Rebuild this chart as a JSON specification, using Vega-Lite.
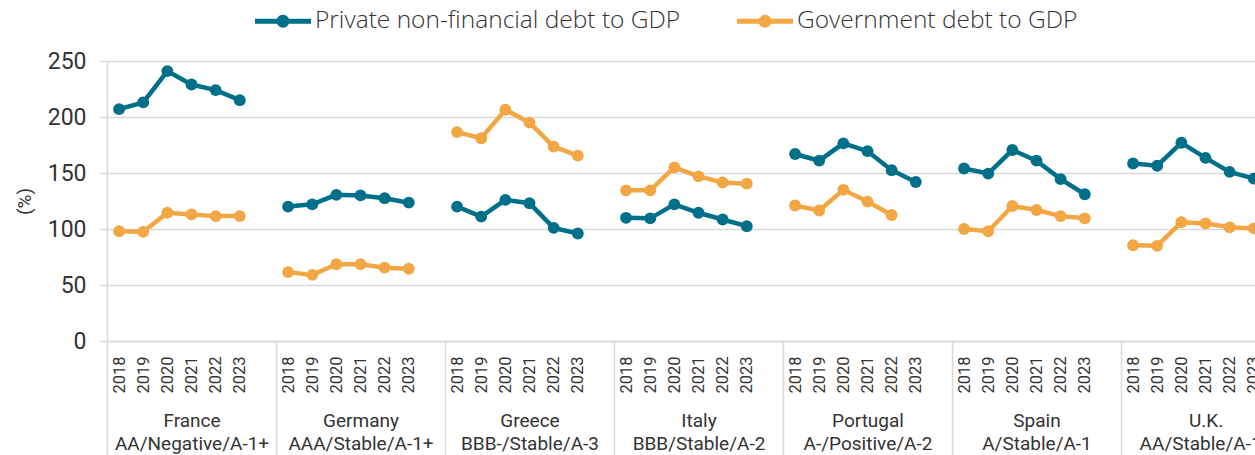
{
  "$schema": "https://vega.github.io/schema/vega-lite/v6.json",
  "autosize": {"type": "none"},
  "padding": {"left": 107, "top": 61, "right": 0, "bottom": 114},
  "width": 1148,
  "height": 280,
  "config": {
    "font": "Roboto",
    "view": {"stroke": null},
    "axis": {"labelColor": "#333333", "titleColor": "#333333", "labelFont": "Roboto", "titleFont": "Roboto"}
  },
  "datasets": {
    "debt": [
      {"country": "France", "cat": "2018 France", "series": "Private non-financial debt to GDP", "value": 207},
      {"country": "France", "cat": "2019 France", "series": "Private non-financial debt to GDP", "value": 213},
      {"country": "France", "cat": "2020 France", "series": "Private non-financial debt to GDP", "value": 241},
      {"country": "France", "cat": "2021 France", "series": "Private non-financial debt to GDP", "value": 229},
      {"country": "France", "cat": "2022 France", "series": "Private non-financial debt to GDP", "value": 224},
      {"country": "France", "cat": "2023 France", "series": "Private non-financial debt to GDP", "value": 215},
      {"country": "France", "cat": "2018 France", "series": "Government debt to GDP", "value": 98},
      {"country": "France", "cat": "2019 France", "series": "Government debt to GDP", "value": 97.5},
      {"country": "France", "cat": "2020 France", "series": "Government debt to GDP", "value": 114.5},
      {"country": "France", "cat": "2021 France", "series": "Government debt to GDP", "value": 113},
      {"country": "France", "cat": "2022 France", "series": "Government debt to GDP", "value": 111.5},
      {"country": "France", "cat": "2023 France", "series": "Government debt to GDP", "value": 111.5},
      {"country": "Germany", "cat": "2018 Germany", "series": "Private non-financial debt to GDP", "value": 120},
      {"country": "Germany", "cat": "2019 Germany", "series": "Private non-financial debt to GDP", "value": 122},
      {"country": "Germany", "cat": "2020 Germany", "series": "Private non-financial debt to GDP", "value": 130.5},
      {"country": "Germany", "cat": "2021 Germany", "series": "Private non-financial debt to GDP", "value": 130},
      {"country": "Germany", "cat": "2022 Germany", "series": "Private non-financial debt to GDP", "value": 127.5},
      {"country": "Germany", "cat": "2023 Germany", "series": "Private non-financial debt to GDP", "value": 123.5},
      {"country": "Germany", "cat": "2018 Germany", "series": "Government debt to GDP", "value": 61.5},
      {"country": "Germany", "cat": "2019 Germany", "series": "Government debt to GDP", "value": 59},
      {"country": "Germany", "cat": "2020 Germany", "series": "Government debt to GDP", "value": 68.5},
      {"country": "Germany", "cat": "2021 Germany", "series": "Government debt to GDP", "value": 68.5},
      {"country": "Germany", "cat": "2022 Germany", "series": "Government debt to GDP", "value": 65.5},
      {"country": "Germany", "cat": "2023 Germany", "series": "Government debt to GDP", "value": 64.5},
      {"country": "Greece", "cat": "2018 Greece", "series": "Private non-financial debt to GDP", "value": 120},
      {"country": "Greece", "cat": "2019 Greece", "series": "Private non-financial debt to GDP", "value": 111},
      {"country": "Greece", "cat": "2020 Greece", "series": "Private non-financial debt to GDP", "value": 126},
      {"country": "Greece", "cat": "2021 Greece", "series": "Private non-financial debt to GDP", "value": 123},
      {"country": "Greece", "cat": "2022 Greece", "series": "Private non-financial debt to GDP", "value": 101},
      {"country": "Greece", "cat": "2023 Greece", "series": "Private non-financial debt to GDP", "value": 96},
      {"country": "Greece", "cat": "2018 Greece", "series": "Government debt to GDP", "value": 186.5},
      {"country": "Greece", "cat": "2019 Greece", "series": "Government debt to GDP", "value": 181},
      {"country": "Greece", "cat": "2020 Greece", "series": "Government debt to GDP", "value": 206.5},
      {"country": "Greece", "cat": "2021 Greece", "series": "Government debt to GDP", "value": 195},
      {"country": "Greece", "cat": "2022 Greece", "series": "Government debt to GDP", "value": 173.5},
      {"country": "Greece", "cat": "2023 Greece", "series": "Government debt to GDP", "value": 165.5},
      {"country": "Italy", "cat": "2018 Italy", "series": "Private non-financial debt to GDP", "value": 110},
      {"country": "Italy", "cat": "2019 Italy", "series": "Private non-financial debt to GDP", "value": 109.5},
      {"country": "Italy", "cat": "2020 Italy", "series": "Private non-financial debt to GDP", "value": 122},
      {"country": "Italy", "cat": "2021 Italy", "series": "Private non-financial debt to GDP", "value": 114.5},
      {"country": "Italy", "cat": "2022 Italy", "series": "Private non-financial debt to GDP", "value": 108.5},
      {"country": "Italy", "cat": "2023 Italy", "series": "Private non-financial debt to GDP", "value": 102.5},
      {"country": "Italy", "cat": "2018 Italy", "series": "Government debt to GDP", "value": 134.5},
      {"country": "Italy", "cat": "2019 Italy", "series": "Government debt to GDP", "value": 134.5},
      {"country": "Italy", "cat": "2020 Italy", "series": "Government debt to GDP", "value": 155},
      {"country": "Italy", "cat": "2021 Italy", "series": "Government debt to GDP", "value": 147},
      {"country": "Italy", "cat": "2022 Italy", "series": "Government debt to GDP", "value": 141.5},
      {"country": "Italy", "cat": "2023 Italy", "series": "Government debt to GDP", "value": 140.5},
      {"country": "Portugal", "cat": "2018 Portugal", "series": "Private non-financial debt to GDP", "value": 167},
      {"country": "Portugal", "cat": "2019 Portugal", "series": "Private non-financial debt to GDP", "value": 161},
      {"country": "Portugal", "cat": "2020 Portugal", "series": "Private non-financial debt to GDP", "value": 176.5},
      {"country": "Portugal", "cat": "2021 Portugal", "series": "Private non-financial debt to GDP", "value": 169.5},
      {"country": "Portugal", "cat": "2022 Portugal", "series": "Private non-financial debt to GDP", "value": 152.5},
      {"country": "Portugal", "cat": "2023 Portugal", "series": "Private non-financial debt to GDP", "value": 142},
      {"country": "Portugal", "cat": "2018 Portugal", "series": "Government debt to GDP", "value": 121},
      {"country": "Portugal", "cat": "2019 Portugal", "series": "Government debt to GDP", "value": 116.5},
      {"country": "Portugal", "cat": "2020 Portugal", "series": "Government debt to GDP", "value": 135},
      {"country": "Portugal", "cat": "2021 Portugal", "series": "Government debt to GDP", "value": 124.5},
      {"country": "Portugal", "cat": "2022 Portugal", "series": "Government debt to GDP", "value": 112.5},
      {"country": "Spain", "cat": "2018 Spain", "series": "Private non-financial debt to GDP", "value": 154},
      {"country": "Spain", "cat": "2019 Spain", "series": "Private non-financial debt to GDP", "value": 149.5},
      {"country": "Spain", "cat": "2020 Spain", "series": "Private non-financial debt to GDP", "value": 170.5},
      {"country": "Spain", "cat": "2021 Spain", "series": "Private non-financial debt to GDP", "value": 161},
      {"country": "Spain", "cat": "2022 Spain", "series": "Private non-financial debt to GDP", "value": 144.5},
      {"country": "Spain", "cat": "2023 Spain", "series": "Private non-financial debt to GDP", "value": 131},
      {"country": "Spain", "cat": "2018 Spain", "series": "Government debt to GDP", "value": 100},
      {"country": "Spain", "cat": "2019 Spain", "series": "Government debt to GDP", "value": 98},
      {"country": "Spain", "cat": "2020 Spain", "series": "Government debt to GDP", "value": 120.5},
      {"country": "Spain", "cat": "2021 Spain", "series": "Government debt to GDP", "value": 117},
      {"country": "Spain", "cat": "2022 Spain", "series": "Government debt to GDP", "value": 111.5},
      {"country": "Spain", "cat": "2023 Spain", "series": "Government debt to GDP", "value": 109.5},
      {"country": "U.K.", "cat": "2018 U.K.", "series": "Private non-financial debt to GDP", "value": 158.5},
      {"country": "U.K.", "cat": "2019 U.K.", "series": "Private non-financial debt to GDP", "value": 156.5},
      {"country": "U.K.", "cat": "2020 U.K.", "series": "Private non-financial debt to GDP", "value": 177},
      {"country": "U.K.", "cat": "2021 U.K.", "series": "Private non-financial debt to GDP", "value": 163.5},
      {"country": "U.K.", "cat": "2022 U.K.", "series": "Private non-financial debt to GDP", "value": 151},
      {"country": "U.K.", "cat": "2023 U.K.", "series": "Private non-financial debt to GDP", "value": 145},
      {"country": "U.K.", "cat": "2018 U.K.", "series": "Government debt to GDP", "value": 85.5},
      {"country": "U.K.", "cat": "2019 U.K.", "series": "Government debt to GDP", "value": 85},
      {"country": "U.K.", "cat": "2020 U.K.", "series": "Government debt to GDP", "value": 106},
      {"country": "U.K.", "cat": "2021 U.K.", "series": "Government debt to GDP", "value": 105},
      {"country": "U.K.", "cat": "2022 U.K.", "series": "Government debt to GDP", "value": 101.5},
      {"country": "U.K.", "cat": "2023 U.K.", "series": "Government debt to GDP", "value": 100.5}
    ],
    "groups": [
      {"group": "France|AA/Negative/A-1+"},
      {"group": "Germany|AAA/Stable/A-1+"},
      {"group": "Greece|BBB-/Stable/A-3"},
      {"group": "Italy|BBB/Stable/A-2"},
      {"group": "Portugal|A-/Positive/A-2"},
      {"group": "Spain|A/Stable/A-1"},
      {"group": "U.K.|AA/Stable/A-1+"}
    ]
  },
  "layer": [
    {
      "data": {"name": "debt"},
      "encoding": {
        "x": {
          "field": "cat",
          "type": "ordinal",
          "sort": null,
          "scale": {
            "type": "point",
            "padding": 0.5,
            "range": [0, 1183],
            "domain": [
              "2018 France", "2019 France", "2020 France", "2021 France", "2022 France", "2023 France", "gap France",
              "2018 Germany", "2019 Germany", "2020 Germany", "2021 Germany", "2022 Germany", "2023 Germany", "gap Germany",
              "2018 Greece", "2019 Greece", "2020 Greece", "2021 Greece", "2022 Greece", "2023 Greece", "gap Greece",
              "2018 Italy", "2019 Italy", "2020 Italy", "2021 Italy", "2022 Italy", "2023 Italy", "gap Italy",
              "2018 Portugal", "2019 Portugal", "2020 Portugal", "2021 Portugal", "2022 Portugal", "2023 Portugal", "gap Portugal",
              "2018 Spain", "2019 Spain", "2020 Spain", "2021 Spain", "2022 Spain", "2023 Spain", "gap Spain",
              "2018 U.K.", "2019 U.K.", "2020 U.K.", "2021 U.K.", "2022 U.K.", "2023 U.K.", "gap U.K."
            ]
          },
          "axis": {
            "title": null,
            "labelExpr": "indexof(datum.value, 'gap') < 0 ? slice(datum.value, 0, 4) : ''",
            "labelAngle": 270,
            "labelFontSize": 16.5,
            "labelPadding": 15,
            "labelOverlap": false,
            "ticks": false,
            "grid": false,
            "domainColor": "#d9d9d9",
            "domainWidth": 1.5
          }
        },
        "y": {
          "field": "value",
          "type": "quantitative",
          "scale": {"domain": [0, 250], "nice": false},
          "axis": {
            "title": "(%)",
            "values": [0, 50, 100, 150, 200, 250],
            "grid": true,
            "gridColor": "#d9d9d9",
            "gridWidth": 1.5,
            "domainColor": "#d9d9d9",
            "domainWidth": 1.5,
            "tickColor": "#d9d9d9",
            "tickWidth": 1.5,
            "tickSize": 7,
            "labelFontSize": 23,
            "labelPadding": 14,
            "titleFontSize": 19,
            "titleFontWeight": "normal",
            "titlePadding": 13
          }
        },
        "color": {
          "field": "series",
          "type": "nominal",
          "scale": {
            "domain": ["Private non-financial debt to GDP", "Government debt to GDP"],
            "range": ["#00708a", "#f2a744"]
          },
          "legend": {
            "title": null,
            "orient": "none",
            "legendX": 148,
            "legendY": -68,
            "direction": "horizontal",
            "symbolType": "M-1,-0.09H1V0.09H-1Z M-0.23,0A0.23,0.23 0 1,1 0.23,0A0.23,0.23 0 1,1 -0.23,0Z",
            "symbolSize": 3136,
            "symbolStrokeWidth": 0,
            "labelFontSize": 24.5,
            "labelFont": "Open Sans",
            "labelFontWeight": 300,
            "labelColor": "#333333",
            "labelOffset": 4,
            "labelLimit": 600,
            "columnPadding": 56,
            "encode": {
              "symbols": {
                "update": {
                  "fill": {"scale": "color", "field": "value"},
                  "stroke": {"value": "transparent"}
                }
              }
            }
          }
        },
        "detail": {"field": "country"}
      },
      "layer": [
        {"mark": {"type": "line", "strokeWidth": 4.5}},
        {"mark": {"type": "point", "filled": true, "size": 140, "opacity": 1}}
      ]
    },
    {
      "data": {"name": "groups"},
      "mark": {"type": "point", "opacity": 0},
      "encoding": {
        "x": {
          "field": "group",
          "type": "nominal",
          "sort": null,
          "scale": {"type": "band", "paddingInner": 0, "paddingOuter": 0, "range": [0, 1183]},
          "axis": {
            "title": null,
            "orient": "bottom",
            "tickBand": "extent",
            "ticks": true,
            "tickSize": 114,
            "tickColor": "#d9d9d9",
            "tickWidth": 1.5,
            "domain": false,
            "grid": false,
            "labelAngle": 0,
            "labelPadding": -44,
            "labelExpr": "isString(datum.value) ? split(datum.value, '|') : ''",
            "labelFontSize": 19,
            "labelLineHeight": 23,
            "labelOverlap": false,
            "labelLimit": 300
          }
        }
      }
    }
  ],
  "resolve": {"scale": {"x": "independent"}, "axis": {"x": "independent"}}
}
